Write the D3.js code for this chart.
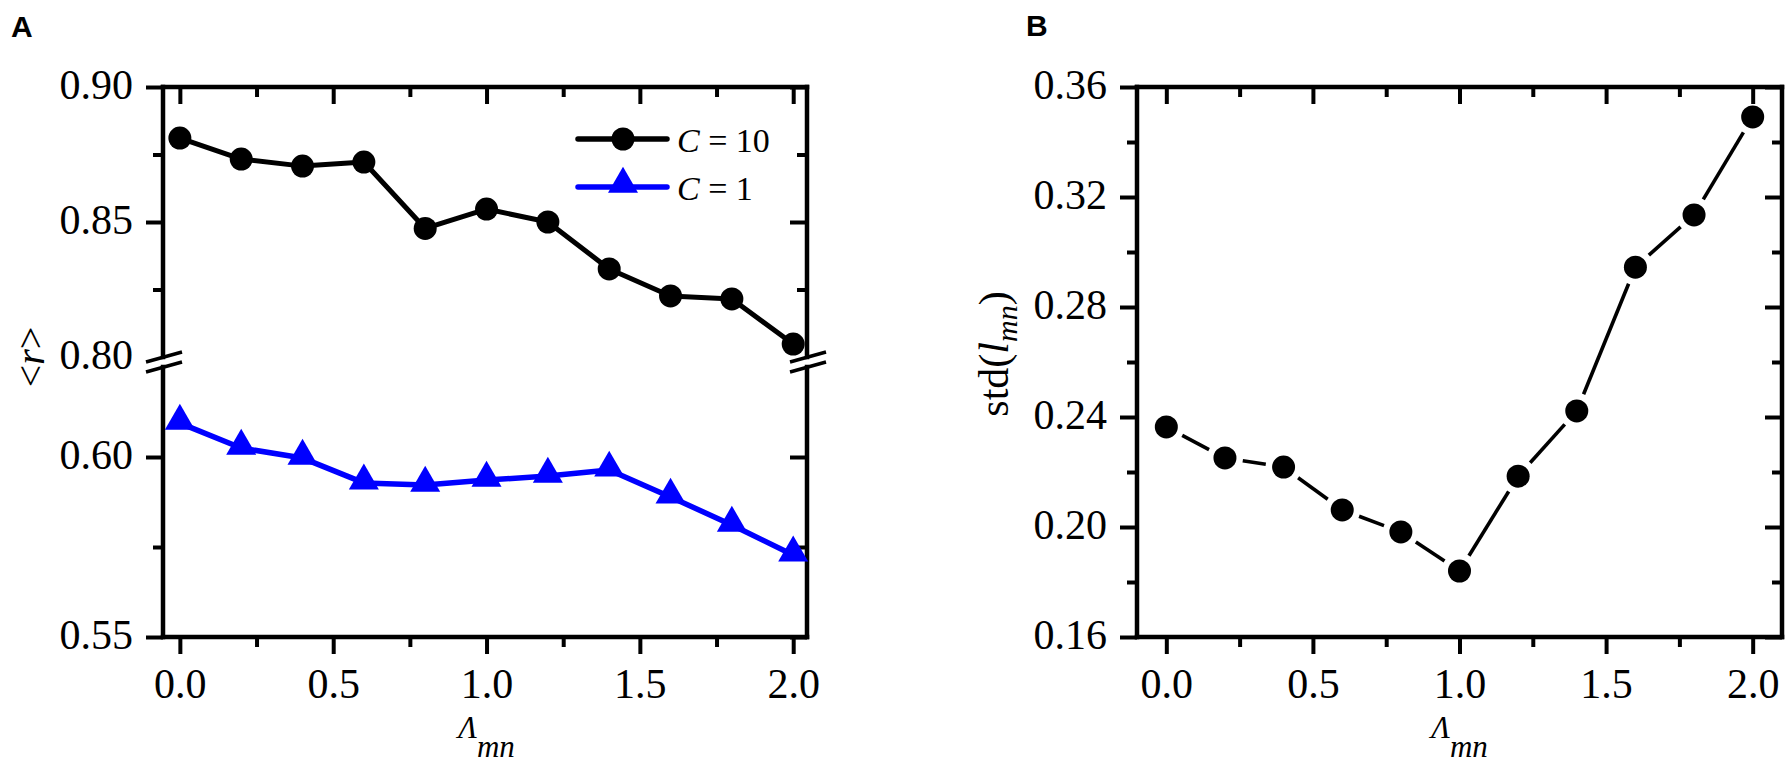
<!DOCTYPE html>
<html>
<head>
<meta charset="utf-8">
<script src="https://cdn.jsdelivr.net/npm/d3@7"></script>
<style>
  body { margin: 0; background: #fff; }
  svg { display: block; }
  text { font-family: "Liberation Serif", "Times New Roman", serif; fill: #000; }
</style>
</head>
<body>
<svg id="chart" width="1789" height="765"></svg>
<script>
// values
var lambdaVals = [0, 0.2, 0.4, 0.6, 0.8, 1.0, 1.2, 1.4, 1.6, 1.8, 2.0];
var rC10 = [0.8811, 0.8733, 0.8707, 0.8722, 0.8476, 0.8548, 0.8500, 0.8326, 0.8226, 0.8215, 0.8048];
var rC1  = [0.6094, 0.6025, 0.5997, 0.5928, 0.5922, 0.5936, 0.5947, 0.5964, 0.5889, 0.5811, 0.5728];
var stdL = [0.2364, 0.2251, 0.2218, 0.2062, 0.1982, 0.1840, 0.2185, 0.2422, 0.2945, 0.3135, 0.3491];

var xMajor = [0, 0.5, 1.0, 1.5, 2.0];
var xMinor = [0.25, 0.75, 1.25, 1.75];
var yAupMajor = [0.80, 0.85, 0.90], yAupMinor = [0.825, 0.875];
var yAloMajor = [0.55, 0.60], yAloMinor = [0.575];
var yBMajor = [0.16, 0.20, 0.24, 0.28, 0.32, 0.36], yBMinor = [0.18, 0.22, 0.26, 0.30, 0.34];

var svg = d3.select("#chart");
var FS = 42, AXW = 4.5, TW = 4, MAJ = 17, MIN = 10;

// scales
var xA = d3.scaleLinear().domain([-0.055, 2.045]).range([163, 807]);
var yAup = d3.scaleLinear().domain([0.80, 0.90]).range([357, 87]);
var yAlo = d3.scaleLinear().domain([0.55, 0.625]).range([637, 367]);
var xB = d3.scaleLinear().domain([-0.1, 2.1]).range([1137, 1782]);
var yB = d3.scaleLinear().domain([0.16, 0.36]).range([637, 87]);

function styleAxis(g, labels) {
  g.select(".domain").remove();
  g.selectAll(".tick line").attr("stroke", "#000").attr("stroke-width", TW);
  g.selectAll(".tick text").attr("font-size", FS);
  if (!labels) g.selectAll(".tick text").remove();
}

// x axes (bottom outward, top inward)
function xAxes(x, yTop, yBot) {
  var b = svg.append("g").attr("transform", "translate(0," + yBot + ")")
    .call(d3.axisBottom(x).tickValues(xMajor).tickSize(MAJ).tickPadding(14).tickFormat(d3.format(".1f")));
  styleAxis(b, true);
  var bm = svg.append("g").attr("transform", "translate(0," + yBot + ")")
    .call(d3.axisBottom(x).tickValues(xMinor).tickSize(MIN));
  styleAxis(bm, false);
  var t = svg.append("g").attr("transform", "translate(0," + yTop + ")")
    .call(d3.axisBottom(x).tickValues(xMajor).tickSize(MAJ));
  styleAxis(t, false);
  var tm = svg.append("g").attr("transform", "translate(0," + yTop + ")")
    .call(d3.axisBottom(x).tickValues(xMinor).tickSize(MIN));
  styleAxis(tm, false);
}

// y axes: left outward with labels, right inward
function yAxes(y, major, minor, xl, xr, fmt) {
  var l = svg.append("g").attr("transform", "translate(" + xl + ",0)")
    .call(d3.axisLeft(y).tickValues(major).tickSize(MAJ).tickPadding(13).tickFormat(d3.format(fmt)));
  styleAxis(l, true);
  l.selectAll(".tick text").attr("dy", "0.27em");
  var lm = svg.append("g").attr("transform", "translate(" + xl + ",0)")
    .call(d3.axisLeft(y).tickValues(minor).tickSize(MIN));
  styleAxis(lm, false);
  var r = svg.append("g").attr("transform", "translate(" + xr + ",0)")
    .call(d3.axisLeft(y).tickValues(major).tickSize(MAJ));
  styleAxis(r, false);
  var rm = svg.append("g").attr("transform", "translate(" + xr + ",0)")
    .call(d3.axisLeft(y).tickValues(minor).tickSize(MIN));
  styleAxis(rm, false);
  return [l, r];
}

function frameLine(x1, y1, x2, y2) {
  svg.append("line").attr("x1", x1).attr("y1", y1).attr("x2", x2).attr("y2", y2)
    .attr("stroke", "#000").attr("stroke-width", AXW).attr("stroke-linecap", "square");
}

// ---------- Panel A ----------
xAxes(xA, yAup.range()[1], yAlo.range()[0]);
var upAx = yAxes(yAup, yAupMajor, yAupMinor, xA.range()[0], xA.range()[1], ".2f");
var loAx = yAxes(yAlo, yAloMajor, yAloMinor, xA.range()[0], xA.range()[1], ".2f");
// no tick line at the break value
upAx.forEach(function(g) {
  g.selectAll(".tick").filter(function(d) { return d === 0.80; }).select("line").remove();
});

frameLine(xA.range()[0], yAup.range()[1], xA.range()[1], yAup.range()[1]);
frameLine(xA.range()[0], yAlo.range()[0], xA.range()[1], yAlo.range()[0]);
[xA.range()[0], xA.range()[1]].forEach(function(xx) {
  svg.append("line").attr("x1", xx).attr("x2", xx).attr("y1", yAup.range()[1]).attr("y2", yAup.range()[0])
    .attr("stroke", "#000").attr("stroke-width", AXW).attr("stroke-linecap", "square");
  svg.append("line").attr("x1", xx).attr("x2", xx).attr("y1", yAlo.range()[1]).attr("y2", yAlo.range()[0])
    .attr("stroke", "#000").attr("stroke-width", AXW).attr("stroke-linecap", "square");
  // break marks
  [yAup.range()[0], yAlo.range()[1]].forEach(function(yy) {
    svg.append("line").attr("x1", xx - 17).attr("y1", yy + 5).attr("x2", xx + 19).attr("y2", yy - 5)
      .attr("stroke", "#000").attr("stroke-width", 3.5);
  });
});

// series C = 10
var lineUp = d3.line().x(function(d, i) { return xA(lambdaVals[i]); }).y(function(d) { return yAup(d); });
svg.append("path").datum(rC10).attr("d", lineUp)
  .attr("fill", "none").attr("stroke", "#000").attr("stroke-width", 5).attr("stroke-linejoin", "round");
svg.selectAll(".c10").data(rC10).enter().append("circle")
  .attr("cx", function(d, i) { return xA(lambdaVals[i]); })
  .attr("cy", function(d) { return yAup(d); })
  .attr("r", 11.5).attr("fill", "#000");

// series C = 1
var lineLo = d3.line().x(function(d, i) { return xA(lambdaVals[i]); }).y(function(d) { return yAlo(d); });
svg.append("path").datum(rC1).attr("d", lineLo)
  .attr("fill", "none").attr("stroke", "#0000ff").attr("stroke-width", 5.5).attr("stroke-linejoin", "round");
var tri = d3.symbol().type(d3.symbolTriangle).size(390);
svg.selectAll(".c1").data(rC1).enter().append("path")
  .attr("d", tri)
  .attr("transform", function(d, i) { return "translate(" + xA(lambdaVals[i]) + "," + (yAlo(d) - 2) + ")"; })
  .attr("fill", "#0000ff");

// legend
var legend = [
  { name: "10", color: "#000", y: 139, shape: "circle" },
  { name: "1", color: "#0000ff", y: 187, shape: "triangle" }
];
legend.forEach(function(l) {
  svg.append("line").attr("x1", 578).attr("x2", 667).attr("y1", l.y).attr("y2", l.y)
    .attr("stroke", l.color).attr("stroke-width", 5.5).attr("stroke-linecap", "round");
  if (l.shape === "circle") {
    svg.append("circle").attr("cx", 623).attr("cy", l.y).attr("r", 11.5).attr("fill", l.color);
  } else {
    svg.append("path").attr("d", tri).attr("transform", "translate(623," + (l.y - 3) + ")").attr("fill", l.color);
  }
  var t = svg.append("text").attr("x", 677).attr("y", l.y + 13).attr("font-size", 34);
  t.append("tspan").attr("font-style", "italic").text("C");
  t.append("tspan").text(" = " + l.name);
});

// axis titles A
var yt = svg.append("text").attr("transform", "translate(44,357) rotate(-90)")
  .attr("text-anchor", "middle").attr("font-size", 40);
yt.append("tspan").text("<");
yt.append("tspan").attr("font-style", "italic").text("r");
yt.append("tspan").text(">");

function lambdaTitle(x) {
  var t = svg.append("text").attr("x", x).attr("y", 738).attr("text-anchor", "middle").attr("font-size", 31)
    .attr("font-style", "italic");
  t.append("tspan").text("\u039B");
  t.append("tspan").attr("dy", 19).text("mn");
}
lambdaTitle(xA(1.0));

// ---------- Panel B ----------
xAxes(xB, yB.range()[1], yB.range()[0]);
yAxes(yB, yBMajor, yBMinor, xB.range()[0], xB.range()[1], ".2f");
frameLine(xB.range()[0], yB.range()[1], xB.range()[1], yB.range()[1]);
frameLine(xB.range()[0], yB.range()[0], xB.range()[1], yB.range()[0]);
frameLine(xB.range()[0], yB.range()[1], xB.range()[0], yB.range()[0]);
frameLine(xB.range()[1], yB.range()[1], xB.range()[1], yB.range()[0]);

// line segments with gaps around markers
var gap = 18;
var segs = d3.pairs(stdL.map(function(d, i) { return [xB(lambdaVals[i]), yB(d)]; }));
svg.selectAll(".seg").data(segs).enter().append("line")
  .attr("x1", function(p) { var dx = p[1][0] - p[0][0], dy = p[1][1] - p[0][1], L = Math.hypot(dx, dy); return p[0][0] + dx / L * gap; })
  .attr("y1", function(p) { var dx = p[1][0] - p[0][0], dy = p[1][1] - p[0][1], L = Math.hypot(dx, dy); return p[0][1] + dy / L * gap; })
  .attr("x2", function(p) { var dx = p[1][0] - p[0][0], dy = p[1][1] - p[0][1], L = Math.hypot(dx, dy); return p[1][0] - dx / L * gap; })
  .attr("y2", function(p) { var dx = p[1][0] - p[0][0], dy = p[1][1] - p[0][1], L = Math.hypot(dx, dy); return p[1][1] - dy / L * gap; })
  .attr("stroke", "#000").attr("stroke-width", 3.6);
svg.selectAll(".std").data(stdL).enter().append("circle")
  .attr("cx", function(d, i) { return xB(lambdaVals[i]); })
  .attr("cy", function(d) { return yB(d); })
  .attr("r", 11.5).attr("fill", "#000");

var st = svg.append("text").attr("transform", "translate(1008,354) rotate(-90)")
  .attr("text-anchor", "middle").attr("font-size", 42);
st.append("tspan").text("std(");
st.append("tspan").attr("font-style", "italic").text("l");
st.append("tspan").attr("font-style", "italic").attr("font-size", 30).attr("dy", 9).text("mn");
st.append("tspan").attr("dy", -9).text(")");
lambdaTitle(xB(1.0));

// panel letters (sans bold)
svg.append("text").attr("x", 11).attr("y", 37).style("font-family", "'Liberation Sans', Arial, sans-serif")
  .style("font-weight", "bold").style("font-size", "30px").text("A");
svg.append("text").attr("x", 1026).attr("y", 36).style("font-family", "'Liberation Sans', Arial, sans-serif")
  .style("font-weight", "bold").style("font-size", "30px").text("B");
</script>
</body>
</html>
